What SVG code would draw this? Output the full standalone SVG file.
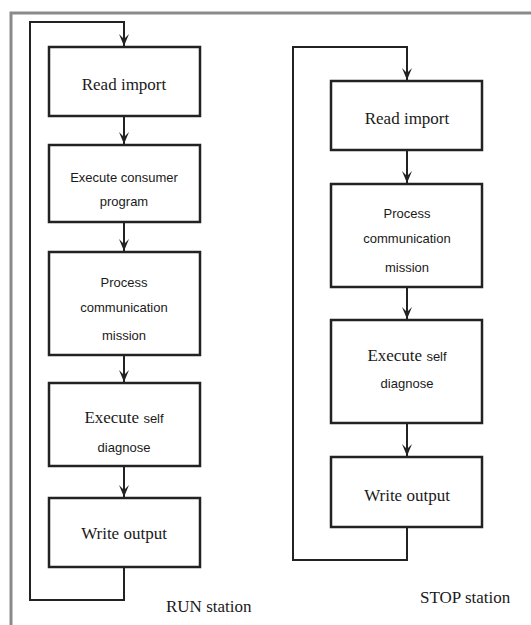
<svg xmlns="http://www.w3.org/2000/svg" width="531" height="625" viewBox="0 0 531 625">
<style>
.box{fill:#fff;stroke:#222;stroke-width:2.5}
.ln{fill:none;stroke:#222;stroke-width:2}
.serif{font-size:17px;fill:#1a1a1a;text-anchor:middle}
.sans{font-size:13px;fill:#1a1a1a;text-anchor:middle}
.lbl{font-size:17px;fill:#1a1a1a}
</style>
<defs>
<marker id="ah" markerWidth="12" markerHeight="10" refX="12" refY="5" orient="auto" markerUnits="userSpaceOnUse" viewBox="0 0 12 10">
<path d="M0,0 L12,5 L0,10 L5,5 Z" fill="#222"/>
</marker>
</defs>
<rect width="531" height="625" fill="#fff"/>
<path d="M11,625 L11,13 L531,13" fill="none" stroke="#8a8a8a" stroke-width="3"/>
<g id="connectors">
<path class="ln" d="M124,567 L124,600 L30,600 L30,22 L124,22 L124,46" marker-end="url(#ah)"/>
<path class="ln" d="M124,116 L124,144" marker-end="url(#ah)"/>
<path class="ln" d="M124,222 L124,251" marker-end="url(#ah)"/>
<path class="ln" d="M124,355 L124,382" marker-end="url(#ah)"/>
<path class="ln" d="M124,466 L124,497" marker-end="url(#ah)"/>
<path class="ln" d="M407,527 L407,560 L293,560 L293,47 L407,47 L407,80" marker-end="url(#ah)"/>
<path class="ln" d="M407,150 L407,183" marker-end="url(#ah)"/>
<path class="ln" d="M407,287 L407,319" marker-end="url(#ah)"/>
<path class="ln" d="M407,423 L407,456" marker-end="url(#ah)"/>
</g>
<g font-family="Liberation Serif, Times New Roman, serif">
<g id="run-read">
<rect class="box" x="49" y="47" width="151" height="69"/>
<text class="serif" x="124" y="90">Read import</text>
</g>
<g id="run-exec-consumer">
<rect class="box" x="49" y="145" width="151" height="77"/>
<text class="sans" font-family="Liberation Sans, Arial, sans-serif" x="124" y="182">Execute consumer</text>
<text class="sans" font-family="Liberation Sans, Arial, sans-serif" x="124" y="206">program</text>
</g>
<g id="run-process">
<rect class="box" x="49" y="252" width="151" height="103"/>
<text class="sans" font-family="Liberation Sans, Arial, sans-serif" x="124" y="287">Process</text>
<text class="sans" font-family="Liberation Sans, Arial, sans-serif" x="124" y="312">communication</text>
<text class="sans" font-family="Liberation Sans, Arial, sans-serif" x="124" y="340">mission</text>
</g>
<g id="run-diag">
<rect class="box" x="49" y="383" width="151" height="83"/>
<text class="serif" x="124" y="423">Execute <tspan font-family="Liberation Sans, Arial, sans-serif" font-size="13">self</tspan></text>
<text class="sans" font-family="Liberation Sans, Arial, sans-serif" x="124" y="452">diagnose</text>
</g>
<g id="run-write">
<rect class="box" x="49" y="498" width="151" height="69"/>
<text class="serif" x="124" y="539">Write output</text>
</g>
<g id="stop-read">
<rect class="box" x="331" y="81" width="151" height="69"/>
<text class="serif" x="407" y="124">Read import</text>
</g>
<g id="stop-process">
<rect class="box" x="331" y="184" width="151" height="103"/>
<text class="sans" font-family="Liberation Sans, Arial, sans-serif" x="407" y="218">Process</text>
<text class="sans" font-family="Liberation Sans, Arial, sans-serif" x="407" y="243">communication</text>
<text class="sans" font-family="Liberation Sans, Arial, sans-serif" x="407" y="272">mission</text>
</g>
<g id="stop-diag">
<rect class="box" x="331" y="320" width="151" height="103"/>
<text class="serif" x="407" y="361">Execute <tspan font-family="Liberation Sans, Arial, sans-serif" font-size="13">self</tspan></text>
<text class="sans" font-family="Liberation Sans, Arial, sans-serif" x="407" y="388">diagnose</text>
</g>
<g id="stop-write">
<rect class="box" x="331" y="457" width="151" height="70"/>
<text class="serif" x="407" y="501">Write output</text>
</g>
<text class="lbl" x="166" y="612">RUN station</text>
<text class="lbl" x="420" y="603">STOP station</text>
</g>
</svg>
